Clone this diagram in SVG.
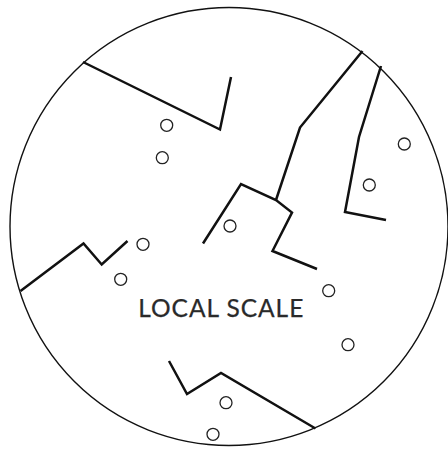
<svg xmlns="http://www.w3.org/2000/svg" width="448" height="449" viewBox="0 0 448 449">
<style>
.outer{fill:none;stroke:#111;stroke-width:1.4}
.ln{fill:none;stroke:#111;stroke-width:2.5;stroke-linejoin:miter;stroke-linecap:butt}
.pt{fill:#fff;stroke:#222;stroke-width:1.3}
.lbl{font-family:Lato,"Liberation Sans",sans-serif;font-size:24.5px;fill:#2a2a2a;stroke:#2a2a2a;stroke-width:0.25;text-anchor:middle}
</style>
<rect width="448" height="449" fill="#fff"/>
<g id="boundary"><circle class="outer" cx="229" cy="226.5" r="219"/></g>
<g id="connectors">
<path class="ln" d="M83,62 L220,129.5 L231,77"/>
<path class="ln" d="M203,243.5 L241,184 L276,200 L292,212.5 L272.5,251 L317,269"/>
<path class="ln" d="M276,200 L300,127.5 L362.5,51"/>
<path class="ln" d="M381,66 L359,137 L345,212 L386,220"/>
<path class="ln" d="M20.5,291 L83.5,243.5 L101.7,264.5 L127.5,241"/>
<path class="ln" d="M169,361 L187,394 L221,373 L315.5,428.5"/>
</g>
<g id="points">
<circle class="pt" cx="166.7" cy="125.3" r="6"/>
<circle class="pt" cx="162.3" cy="157.7" r="6"/>
<circle class="pt" cx="404.3" cy="144" r="6"/>
<circle class="pt" cx="369.3" cy="185" r="6"/>
<circle class="pt" cx="143" cy="244.3" r="6"/>
<circle class="pt" cx="120.7" cy="279.3" r="6"/>
<circle class="pt" cx="230" cy="226" r="6"/>
<circle class="pt" cx="328.7" cy="290.7" r="6"/>
<circle class="pt" cx="348" cy="344.7" r="6"/>
<circle class="pt" cx="226" cy="402.7" r="6"/>
<circle class="pt" cx="213" cy="434.3" r="6"/>
</g>
<g id="label"><text class="lbl" x="220.8" y="316.7" textLength="165" lengthAdjust="spacing">LOCAL SCALE</text></g>
</svg>
